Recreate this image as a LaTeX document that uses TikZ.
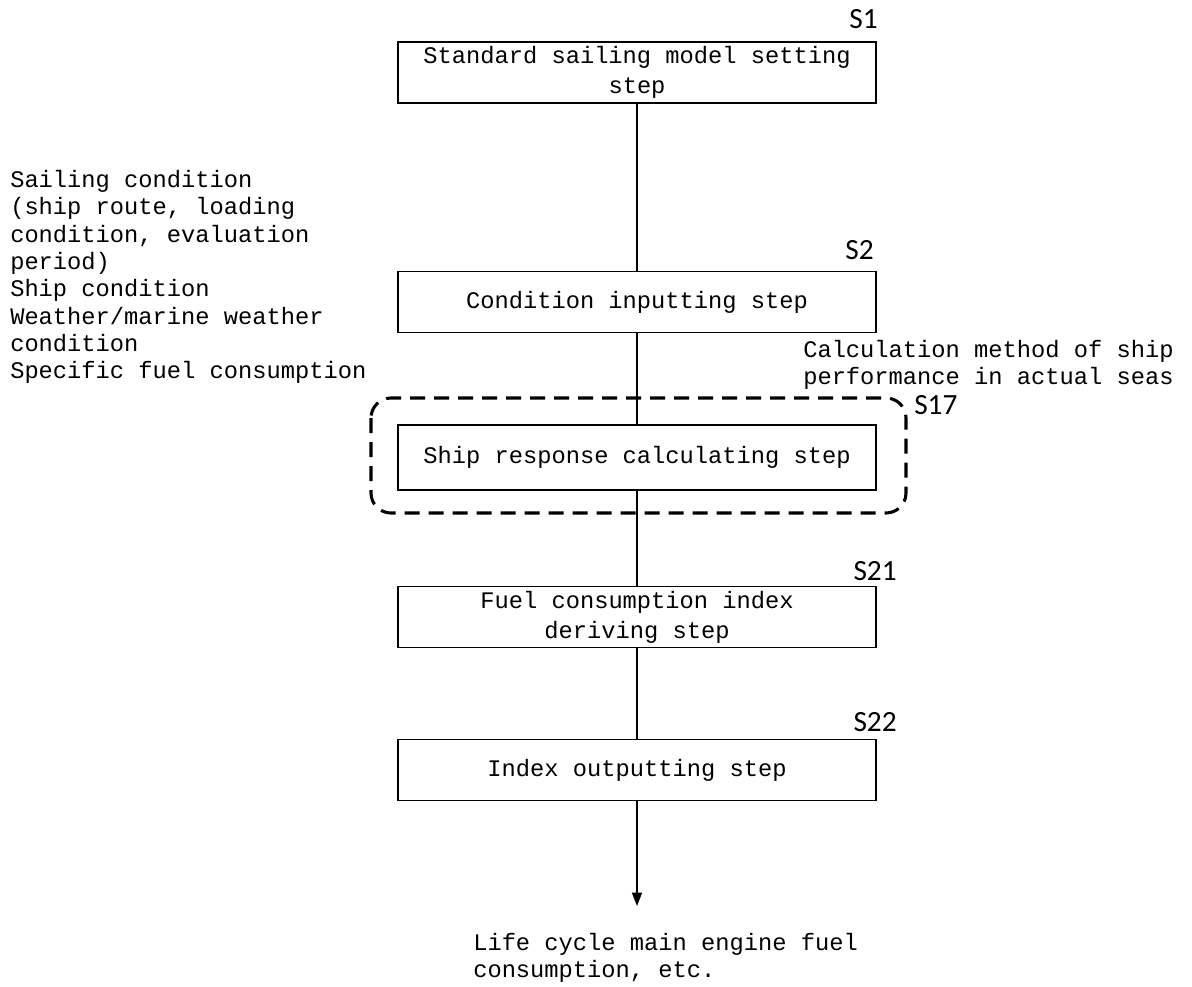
\documentclass[tikz,border=0pt]{standalone}
\usepackage{fontspec}
\setmonofont{Liberation Mono}
\newfontfamily\labfont{Carlito}
\usetikzlibrary{arrows.meta}
\begin{document}
\begin{tikzpicture}[x=0.75pt,y=-0.75pt,
  stepbox/.style={draw,line width=1pt,minimum width=478*0.75pt,minimum height=61*0.75pt,inner sep=0pt,align=center,font=\ttfamily\fontsize{17.8}{22.5}\selectfont},
  steplabel/.style={anchor=base east,inner sep=0pt,font=\labfont\fontsize{22}{24}\selectfont},
  note/.style={anchor=north west,inner sep=0pt,align=left,font=\ttfamily\fontsize{17.8}{20.5}\selectfont},
  conn/.style={line width=1pt}]
\useasboundingbox (0,0) rectangle (1192,987);
\node[stepbox] (s1) at (637,72.5) {Standard sailing model setting\\step};
\node[steplabel] at (878,29) {S1};
\node[stepbox] (s2) at (637,302) {Condition inputting step};
\node[steplabel] at (874,260) {S2};
\node[stepbox,minimum height=65*0.75pt] (s17) at (637,457.5) {Ship response calculating step};
\draw[line width=2.3pt,dash pattern=on 15*0.75pt off 9*0.75pt,rounded corners=20*0.75pt] (371,398) rectangle (906,513);
\node[steplabel,anchor=base west] at (914,414) {S17};
\node[stepbox] (s21) at (637,617) {Fuel consumption index\\deriving step};
\node[steplabel] at (897,580) {S21};
\node[stepbox] (s22) at (637,770) {Index outputting step};
\node[steplabel] at (897,731) {S22};
\coordinate (out) at (637,906);
\draw[conn] (s1) -- (s2);
\draw[conn] (s2) -- (s17);
\draw[conn] (s17) -- (s21);
\draw[conn] (s21) -- (s22);
\draw[conn,-{Triangle[width=7.5pt,length=10pt]}] (s22) -- (out);
\node[note] (cond) at (10,170) {Sailing condition\\(ship route, loading\\condition, evaluation\\period)\\Ship condition\\Weather/marine weather\\condition\\Specific fuel consumption};
\node[note] (calc) at (803,340) {Calculation method of ship\\performance in actual seas};
\node[note] (res) at (473,933) {Life cycle main engine fuel\\consumption, etc.};
\end{tikzpicture}
\end{document}
